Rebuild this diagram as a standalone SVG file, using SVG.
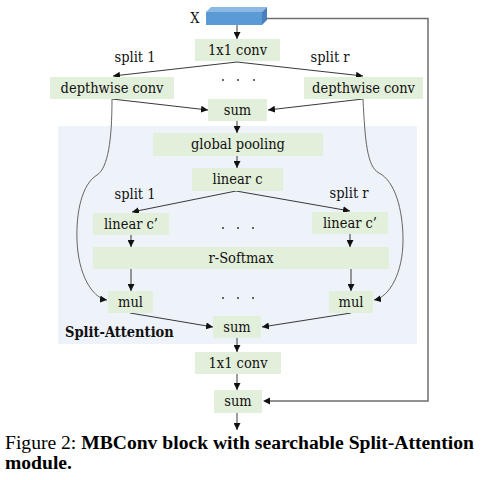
<svg xmlns="http://www.w3.org/2000/svg" width="482" height="480" viewBox="0 0 482 480">
<style>
.box{fill:#e2efda;}
.t{font-family:"DejaVu Serif","Liberation Serif",serif;font-stretch:condensed;font-size:14.5px;fill:#111;text-anchor:middle;}
.tl{font-family:"DejaVu Serif","Liberation Serif",serif;font-stretch:condensed;font-size:14.5px;font-weight:bold;fill:#111;text-anchor:start;}
.ln{fill:none;stroke:#222;stroke-width:0.9;}
.cv{fill:none;stroke:#555;stroke-width:0.9;}
.dot{fill:#222;}
.cap{font-family:"Liberation Serif",serif;font-size:19.6px;fill:#000;}
</style>
<defs>
<marker id="ah" viewBox="0 0 10 10" refX="10" refY="5" markerWidth="7" markerHeight="7" markerUnits="userSpaceOnUse" orient="auto">
<path d="M0,0 L10,5 L0,10 z" fill="#111"/>
</marker>
</defs>
<rect x="0" y="0" width="482" height="480" fill="#fff"/>
<rect id="panel" x="58" y="126" width="359" height="218" fill="#eef2f9"/>

<g id="connectors">
<line class="ln" x1="237" y1="25" x2="237" y2="39" marker-end="url(#ah)"/>
<polyline class="ln" points="237,62 113,76" marker-end="url(#ah)"/>
<polyline class="ln" points="237,62 363,76" marker-end="url(#ah)"/>
<line class="ln" x1="112" y1="99" x2="208" y2="110" marker-end="url(#ah)"/>
<line class="ln" x1="363" y1="99" x2="268" y2="110" marker-end="url(#ah)"/>
<path class="cv" d="M112,99 C112,140 108,168 97,175 C82,184 76,212 77,240 C78,274 92,298 107,300" marker-end="url(#ah)"/>
<path class="cv" d="M363,99 C365,140 367,167 379,173 C395,181 403,210 403,240 C403,272 390,297 374,300" marker-end="url(#ah)"/>
<line class="ln" x1="237" y1="121" x2="237" y2="133" marker-end="url(#ah)"/>
<line class="ln" x1="237" y1="156" x2="237" y2="168" marker-end="url(#ah)"/>
<line class="ln" x1="236" y1="191" x2="132" y2="212" marker-end="url(#ah)"/>
<line class="ln" x1="236" y1="191" x2="350" y2="211" marker-end="url(#ah)"/>
<line class="ln" x1="131" y1="235" x2="131" y2="247" marker-end="url(#ah)"/>
<line class="ln" x1="350" y1="234" x2="350" y2="247" marker-end="url(#ah)"/>
<line class="ln" x1="131" y1="269" x2="131" y2="291" marker-end="url(#ah)"/>
<line class="ln" x1="351" y1="269" x2="351" y2="291" marker-end="url(#ah)"/>
<line class="ln" x1="130" y1="313" x2="213" y2="327" marker-end="url(#ah)"/>
<line class="ln" x1="351" y1="313" x2="262" y2="327" marker-end="url(#ah)"/>
<line class="ln" x1="237" y1="338" x2="237" y2="352" marker-end="url(#ah)"/>
<line class="ln" x1="237" y1="374" x2="237" y2="390" marker-end="url(#ah)"/>
<line class="ln" x1="237" y1="413" x2="237" y2="430" marker-end="url(#ah)"/>
<polyline fill="none" stroke="#6e6e6e" stroke-width="1.5" points="267,18.5 428,18.5 428,401 270,401"/>
<path d="M263,401 L270,397.5 L270,404.5 z" fill="#111"/>
</g>

<g id="x-input">
<polygon points="206,12 211,7 267,7 262,12" fill="#8cb8e4"/>
<polygon points="262,12 267,7 267,20 262,25" fill="#4a80bb"/>
<rect x="206" y="12" width="56" height="13" fill="#5b9bd5"/>
<text class="t" x="195" y="23">X</text>
</g>

<g id="conv1"><rect class="box" x="195" y="39" width="85" height="22"/><text class="t" x="237.5" y="55">1x1 conv</text></g>
<text class="t" x="135" y="62">split 1</text>
<text class="t" x="330" y="62">split r</text>
<g id="dw1"><rect class="box" x="50" y="77" width="124" height="22"/><text class="t" x="112" y="93">depthwise conv</text></g>
<g id="dwr"><rect class="box" x="304" y="77" width="119" height="22"/><text class="t" x="363.5" y="93">depthwise conv</text></g>
<g id="dots1"><circle class="dot" cx="223" cy="80" r="0.9"/><circle class="dot" cx="238" cy="80" r="0.9"/><circle class="dot" cx="254" cy="80" r="0.9"/></g>
<g id="sum1"><rect class="box" x="208" y="99" width="59" height="22"/><text class="t" x="237.5" y="115">sum</text></g>

<g id="gp"><rect class="box" x="153" y="133" width="170" height="23"/><text class="t" x="238" y="149">global pooling</text></g>
<g id="linc"><rect class="box" x="192" y="168" width="91" height="23"/><text class="t" x="237.5" y="184">linear c</text></g>
<text class="t" x="135" y="199">split 1</text>
<text class="t" x="349" y="198">split r</text>
<g id="lc1"><rect class="box" x="93" y="213" width="76" height="22"/><text class="t" x="131" y="229">linear c’</text></g>
<g id="lcr"><rect class="box" x="312" y="212" width="76" height="22"/><text class="t" x="350" y="228">linear c’</text></g>
<g id="dots2"><circle class="dot" cx="223" cy="228" r="0.9"/><circle class="dot" cx="238" cy="228" r="0.9"/><circle class="dot" cx="253" cy="228" r="0.9"/></g>
<g id="softmax"><rect class="box" x="93" y="247" width="296" height="22"/><text class="t" x="241" y="263">r-Softmax</text></g>
<g id="mul1"><rect class="box" x="108" y="291" width="45" height="22"/><text class="t" x="130.5" y="307">mul</text></g>
<g id="mulr"><rect class="box" x="329" y="291" width="44" height="22"/><text class="t" x="351" y="307">mul</text></g>
<g id="dots3"><circle class="dot" cx="223" cy="298" r="0.9"/><circle class="dot" cx="238" cy="298" r="0.9"/><circle class="dot" cx="253" cy="298" r="0.9"/></g>
<g id="sum2"><rect class="box" x="213" y="316" width="48" height="22"/><text class="t" x="237" y="332">sum</text></g>
<text class="tl" x="65" y="337">Split-Attention</text>

<g id="conv2"><rect class="box" x="195" y="352" width="86" height="22"/><text class="t" x="238" y="368">1x1 conv</text></g>
<g id="sum3"><rect class="box" x="214" y="390" width="48" height="23"/><text class="t" x="238" y="406">sum</text></g>

<text class="cap" x="5" y="449">Figure 2: <tspan font-weight="bold">MBConv block with searchable Split-Attention</tspan></text>
<text class="cap" x="5" y="469" font-weight="bold">module.</text>
</svg>
